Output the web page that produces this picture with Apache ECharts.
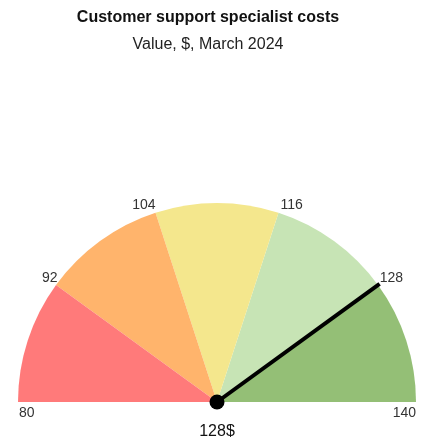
<!DOCTYPE html>
<html>
<head>
<meta charset="utf-8">
<script src="https://cdn.jsdelivr.net/npm/echarts@6/dist/echarts.min.js"></script>
<style>
  html, body { margin: 0; padding: 0; background: #ffffff; }
  #chart { width: 431px; height: 437px; }
</style>
</head>
<body>
<div id="chart"></div>
<script>
// Gauge scale and bands
const scaleMin = 80;
const scaleMax = 140;
const bandEdges = [80, 92, 104, 116, 128, 140];
const bandColors = ['#ff7a7a', '#ffb46c', '#f4e78d', '#c7e4b5', '#94bf76'];
const currentValue = 128;
const valueUnit = '$';

const titleText = 'Customer support specialist costs';
const subtitleText = 'Value, $, March 2024';

// Colour stops for the axis line, one per band
const axisStops = bandColors.map((c, i) => [
  (bandEdges[i + 1] - scaleMin) / (scaleMax - scaleMin), c
]);

// Per-label nudges so each tick label sits just outside its band edge
const labelRich = {
  l80:  { padding: [22, 0, 0, 32] },
  l92:  { padding: [22, 0, 0, 11] },
  l104: { padding: [15, 4, 0, 0] },
  l116: { padding: [15, 0, 0, 7] },
  l128: { padding: [22, 0, 0, 0] },
  l140: { padding: [22, 31, 0, 0] }
};
Object.keys(labelRich).forEach(k => {
  Object.assign(labelRich[k], { fontSize: 14, color: '#333333', fontFamily: 'Liberation Sans, Arial, sans-serif' });
});

const chart = echarts.init(document.getElementById('chart'), null, { renderer: 'canvas' });

chart.setOption({
  animation: false,
  backgroundColor: '#ffffff',
  title: [
    {
      text: titleText,
      left: 203,
      top: 5,
      textAlign: 'center',
      textStyle: { fontSize: 16, fontWeight: 'bold', color: '#111111', fontFamily: 'Liberation Sans, Arial, sans-serif' }
    },
    {
      text: subtitleText,
      left: 203,
      top: 32,
      textAlign: 'center',
      textStyle: { fontSize: 16, fontWeight: 'normal', color: '#222222', fontFamily: 'Liberation Sans, Arial, sans-serif' }
    }
  ],
  series: [
    {
      type: 'gauge',
      center: [217, 402],
      radius: 199,
      startAngle: 180,
      endAngle: 0,
      min: scaleMin,
      max: scaleMax,
      splitNumber: bandEdges.length - 1,
      axisLine: {
        roundCap: false,
        lineStyle: { width: 199, color: axisStops }
      },
      axisTick: { show: false },
      splitLine: { show: false, length: 0, distance: 0 },
      axisLabel: {
        distance: -31,
        fontSize: 14,
        color: '#333333',
        formatter: v => {
          const key = 'l' + Math.round(v);
          return labelRich[key] ? '{' + key + '|' + Math.round(v) + '}' : '';
        },
        rich: labelRich
      },
      pointer: {
        show: true,
        icon: 'rect',
        length: '101%',
        width: 4,
        offsetCenter: [0, 0],
        itemStyle: { color: '#000000' }
      },
      anchor: {
        show: true,
        showAbove: true,
        size: 15,
        itemStyle: { color: '#000000' }
      },
      title: { show: false },
      detail: {
        show: true,
        offsetCenter: [0, 30],
        formatter: '{value}' + valueUnit,
        fontSize: 16,
        fontWeight: 'normal',
        color: '#111111',
        fontFamily: 'Liberation Sans, Arial, sans-serif'
      },
      data: [{ value: currentValue }]
    }
  ]
});
</script>
</body>
</html>
